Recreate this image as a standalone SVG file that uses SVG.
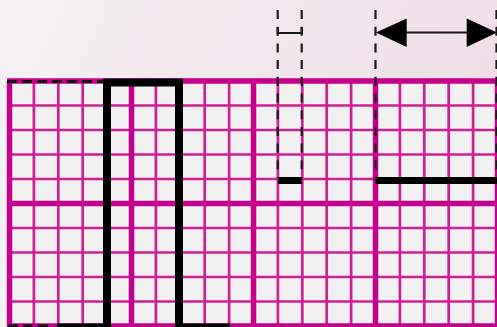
<svg xmlns="http://www.w3.org/2000/svg" width="497" height="327" viewBox="0 0 497 327">
  <defs>
    <linearGradient id="bg" x1="0" y1="0" x2="1" y2="0.3">
      <stop offset="0" stop-color="#F6F2F4"/>
      <stop offset="1" stop-color="#F0DEE6"/>
    </linearGradient>
    <style>
      .minor { stroke: #CF1F98; stroke-width: 2.7; fill: none; }
      .major { stroke: #C4008C; stroke-width: 5.5; fill: none; }
      .wave { stroke: #000; stroke-width: 8; fill: none; stroke-linejoin: miter; stroke-linecap: butt; }
      .vdash { stroke: #1a1a1a; stroke-width: 2.2; stroke-dasharray: 9 7.7; fill: none; }
      .thin { stroke: #1a1a1a; stroke-width: 2; fill: none; }
    </style>
  </defs>

  <rect x="0" y="0" width="497" height="327" fill="url(#bg)"/>
  <rect x="0" y="81" width="497" height="246" fill="#F3F1F2"/>
  <rect x="9.5" y="81" width="490" height="246" fill="#F1F1F1"/>

  <g id="grid">
    <g id="minor-lines">
      <path class="minor" d="M33.9 81V327M58.3 81V327M82.7 81V327M107.1 81V327M155.9 81V327M180.3 81V327M204.7 81V327M229.1 81V327M277.9 81V327M302.3 81V327M326.7 81V327M351.1 81V327M399.9 81V327M424.3 81V327M448.7 81V327M473.1 81V327"/>
      <path class="minor" d="M9.5 105.5H497M9.5 130H497M9.5 154.5H497M9.5 179H497M9.5 228H497M9.5 252.5H497M9.5 277H497M9.5 301.5H497"/>
    </g>
    <g id="major-lines">
      <path class="major" d="M9.5 81V327M131.5 81V327M253.5 81V327M375.5 81V327M497.5 81V327"/>
      <path class="major" d="M7 81H497M7 203.5H497M7 326H497"/>
    </g>
  </g>

  <g id="waveform">
    <path class="wave" d="M57 327.5H107V82.5H179V327.5H230"/>
    <path d="M7 81.5H103" stroke="#111" stroke-width="3" stroke-dasharray="10 5" fill="none"/>
    <path d="M8 326.5H52" stroke="#111" stroke-width="4" stroke-dasharray="10 5" fill="none"/>
    <path d="M278 180.5H302M375.5 180.5H497" stroke="#000" stroke-width="7" fill="none"/>
  </g>

  <g id="connectors">
    <path class="vdash" d="M277.7 10V178M301.7 10V178M375.5 10V178M496.5 10V178"/>
    <path class="thin" d="M277.7 27V33H301.7V27"/>
    <path d="M400 32.5H472" stroke="#1a1a1a" stroke-width="2" fill="none"/>
    <polygon points="376,32.5 406.7,18.5 406.7,47" fill="#000"/>
    <polygon points="497,32.5 466.7,18.5 466.7,47" fill="#000"/>
  </g>
</svg>
